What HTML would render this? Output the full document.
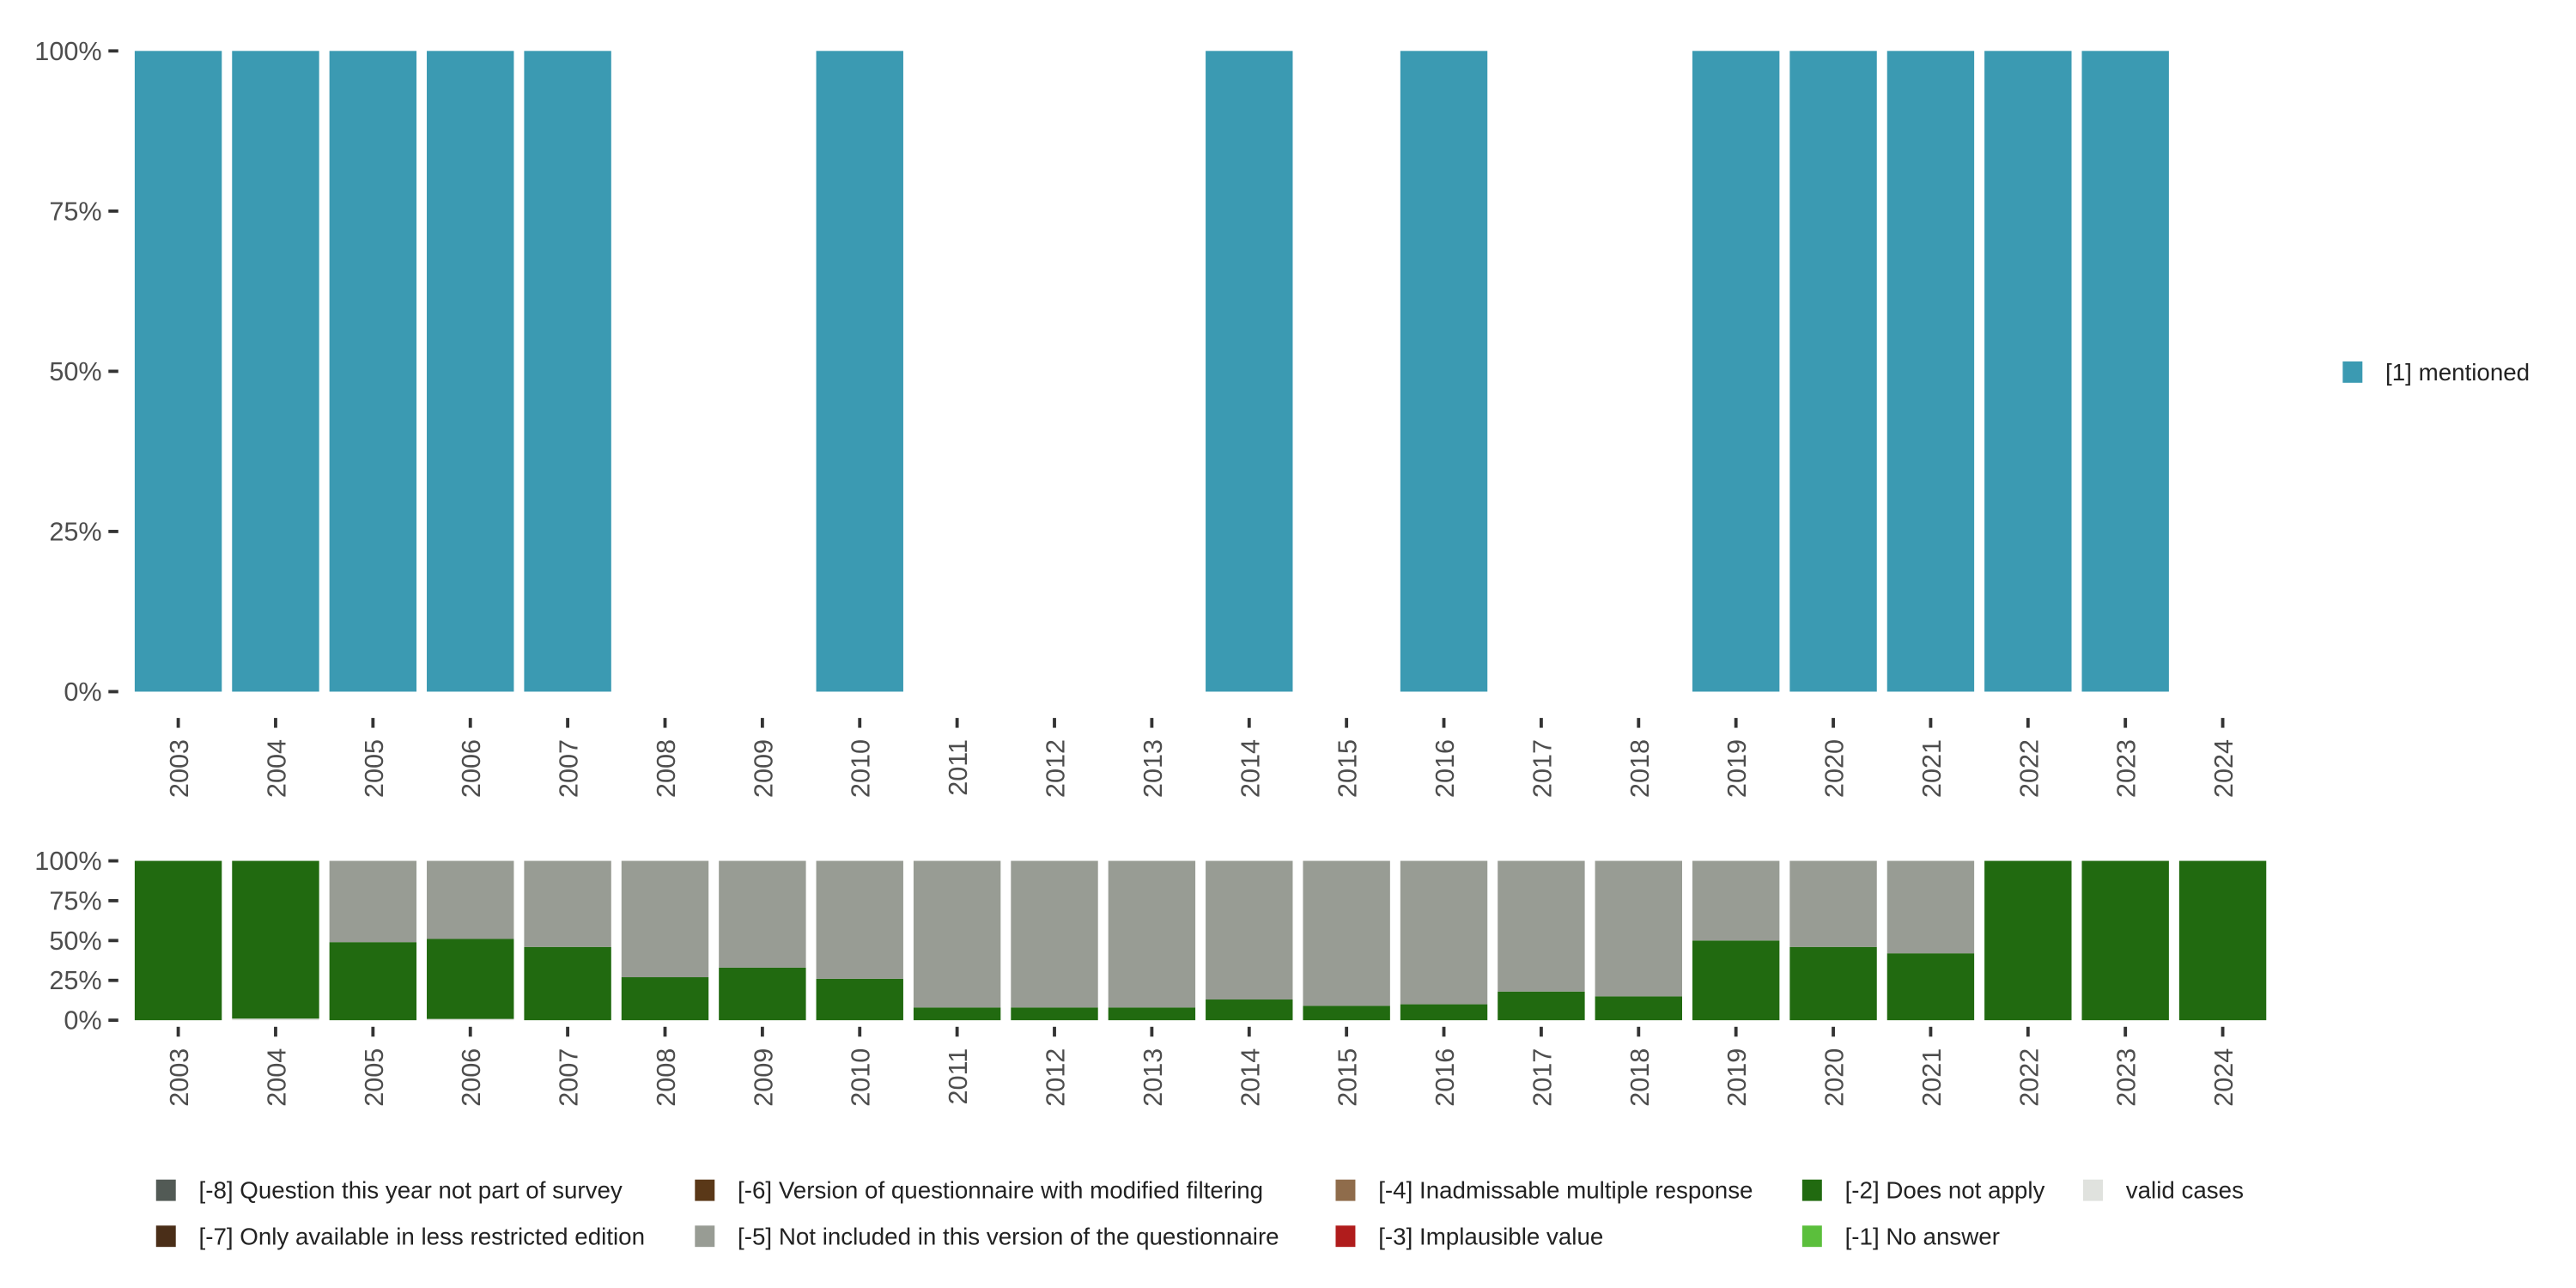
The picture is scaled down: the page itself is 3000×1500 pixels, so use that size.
<!DOCTYPE html>
<html><head><meta charset="utf-8"><style>
html,body{margin:0;padding:0;background:#fff;}
svg{display:block;font-family:"Liberation Sans","DejaVu Sans",sans-serif;}
</style></head><body>
<svg id="chart" width="3000" height="1500" viewBox="0 0 1568 784" xmlns="http://www.w3.org/2000/svg">
<g id="top"></g>
<g id="bottom"></g>
<g id="legend-right">
<rect x="1426" y="220" width="12" height="13" fill="#3b9ab2"/>
<text x="1452" y="231.5" font-size="14.5" fill="#222">[1] mentioned</text>
</g>
<g id="legend-bottom"></g>
</svg>
<script>
const years = [2003,2004,2005,2006,2007,2008,2009,2010,2011,2012,2013,2014,2015,2016,2017,2018,2019,2020,2021,2022,2023,2024];
const mentioned = [100,100,100,100,100,0,0,100,0,0,0,100,0,100,0,0,100,100,100,100,100,0];
const validCases = [0,1,0,0.8,0,0,0,0,0,0,0,0,0,0,0,0,0,0,0,0,0,0];
const doesNotApply = [100,99,49,50.2,46,27,33,26,8,8,8,13,9,10,18,15,50,46,42,100,100,100];
const notIncluded = [0,0,51,49,54,73,67,74,92,92,92,87,91,90,82,85,50,54,58,0,0,0];
const yTicks = [0,25,50,75,100];
const yTickLabels = ["0%","25%","50%","75%","100%"];

const NS="http://www.w3.org/2000/svg";
function mk(tag,attrs,parent){const e=document.createElementNS(NS,tag);for(const k in attrs)e.setAttribute(k,attrs[k]);parent.appendChild(e);return e;}
const step=59.26, x0=108.5, bw=53;
function xC(i){return x0+i*step;}
function yScale(top,bot){return v=>bot-(bot-top)*v/100;}

function axes(g,ys,labelY0,prefix,fs){
  yTicks.forEach((t,i)=>{
    const tk=mk('line',{x1:66,x2:72,y1:ys(t),y2:ys(t),stroke:'#333','stroke-width':2},g);
    
    
    const tx=mk('text',{x:62,y:ys(t)+5.5,'text-anchor':'end','font-size':fs,fill:'#4d4d4d'},g);
    tx.textContent=yTickLabels[i];
    
    
  });
  years.forEach((yr,i)=>{
    const tk=mk('line',{x1:xC(i),x2:xC(i),y1:labelY0,y2:labelY0+6,stroke:'#333','stroke-width':2},g);
    
    
    const tx=mk('text',{x:0,y:0,'text-anchor':'end','font-size':16,fill:'#4d4d4d',transform:`translate(${xC(i)+6},${labelY0+13}) rotate(-90)`},g);
    tx.textContent=yr;
    
    
  });
}

const gt=document.getElementById('top');
const yt=yScale(31,421);
mentioned.forEach((v,i)=>{
  if(v<=0)return;
  const r=mk('rect',{x:xC(i)-bw/2,y:yt(v),width:bw,height:yt(0)-yt(v),fill:'#3b9ab2'},gt);
  
  
});
axes(gt,yt,437,'top',16);

const gb=document.getElementById('bottom');
const yb=yScale(524,621);
years.forEach((yr,i)=>{
  let cum=0;
  [[validCases,'#e0e2de','valid'],[doesNotApply,'#216a10','does-not-apply'],[notIncluded,'#989c94','not-included']].forEach(([arr,col,nm])=>{
    const v=arr[i]; if(v<=0)return;
    const r=mk('rect',{x:xC(i)-bw/2,y:yb(cum+v),width:bw,height:yb(cum)-yb(cum+v),fill:col},gb);
    
    
    cum+=v;
  });
});
axes(gb,yb,625,'bottom',16);

const legendLabels=["[-8] Question this year not part of survey","[-7] Only available in less restricted edition","[-6] Version of questionnaire with modified filtering","[-5] Not included in this version of the questionnaire","[-4] Inadmissable multiple response","[-3] Implausible value","[-2] Does not apply","[-1] No answer","valid cases"];
const legendColors=["#525a55","#4a2e18","#5a3818","#989c94","#8f6c4b","#b01c1c","#216a10","#5bbf3c","#e0e2de"];
const lg=document.getElementById('legend-bottom');
const colX=[95,423,813,1097,1268];
legendLabels.forEach((lab,i)=>{
  const c=Math.floor(i/2), r=i%2;
  const y=718+r*28;
  const s=mk('rect',{x:colX[c],y:y,width:12,height:13,fill:legendColors[i]},lg);
  
  
  const t=mk('text',{x:colX[c]+26,y:y+11.5,'font-size':14.5,fill:'#222'},lg);
  t.textContent=lab;
  
  
});
</script>
</body></html>
